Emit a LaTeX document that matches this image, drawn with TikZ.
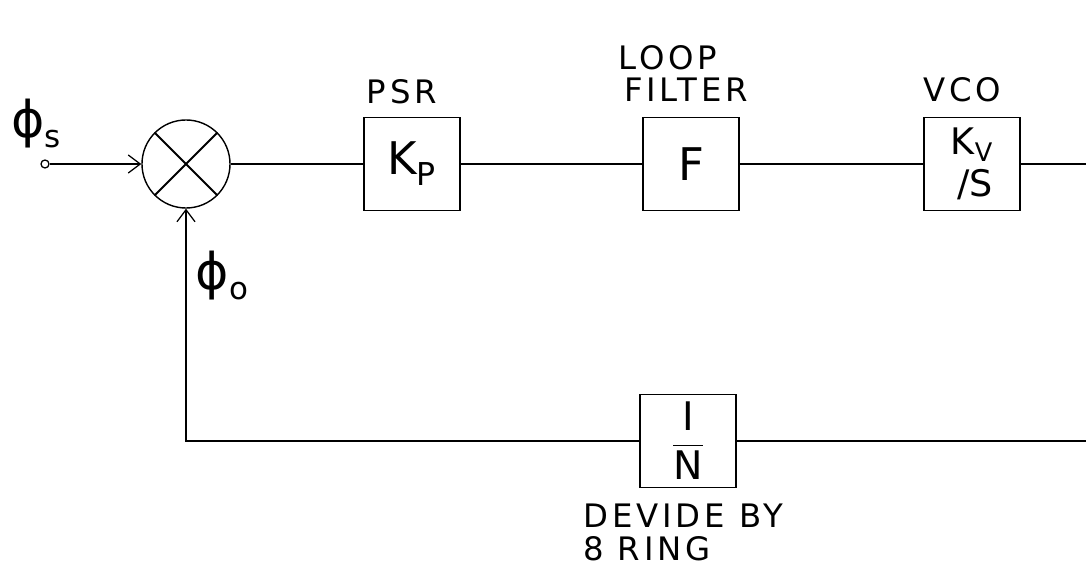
\documentclass[tikz,border=0pt]{standalone}
\usepackage{fontspec}
\setmainfont{DejaVu Sans}
\usetikzlibrary{arrows.meta,positioning}

\begin{document}
\begin{tikzpicture}[x=0.025cm, y=-0.025cm,
  every node/.style={font=\fontsize{18}{22}\selectfont},
  block/.style={rectangle, draw, line width=1pt, minimum width=2.4cm, minimum height=2.33cm, inner sep=2pt, font=\fontsize{32}{36}\selectfont, align=center},
  wire/.style={line width=0.9pt},
  arrow/.style={wire, -{Straight Barb[length=3mm, width=4.5mm]}},
  tag/.style={font=\addfontfeature{LetterSpace=12}\fontsize{23}{28}\selectfont, inner sep=0pt},
  sym/.style={font=\fontsize{36}{40}\selectfont, inner sep=0pt}
]
\useasboundingbox (0,0) rectangle (1086,576);

% forward path
\node[circle, draw, line width=1pt, minimum size=2.2cm] (sum) at (186,164) {};
\draw[line width=1.4pt] (sum.45) -- (sum.225) (sum.135) -- (sum.315);
\node[circle, draw, line width=0.9pt, minimum size=0.2cm, inner sep=0pt] (in) at (45,164) {};
\node[block] (psr)  at (412,164) {K$_\mathrm{P}$};
\node[block] (filt) at (691,164) {F};
\node[block] (vco)  at (972,164) {\fontsize{26}{22}\selectfont K$_\mathrm{V}$\\[-6pt]\fontsize{26}{22}\selectfont\,/S};
\coordinate (out) at (1086,164);

% feedback path
\node[block, font=\fontsize{28}{32}\selectfont] (div) at (688,441) {$\displaystyle\frac{\mathrm{I}}{\mathrm{N}}$};
\coordinate (back) at (1086,441);

% labels
\node[sym] (phis) at (36,124) {ϕ\raisebox{-0.35ex}{\fontsize{22}{24}\selectfont s}};
\node[sym] (phio) at (222,276) {ϕ\raisebox{-0.35ex}{\fontsize{22}{24}\selectfont o}};
\node[tag] (psrlbl) at (402,92) {PSR};
\node[tag] (looplbl) at (668,58) {LOOP};
\node[tag] (filtlbl) at (686,90) {FILTER};
\node[tag] (vcolbl) at (962,90) {VCO};
\node[tag, anchor=west] (divlbl) at (583,516) {DEVIDE BY};
\node[tag, anchor=west] (ringlbl) at (583,549) {8 RING};

\draw[arrow] (in.east) -- (sum.west);
\draw[wire] (sum.east) -- (psr.west);
\draw[wire] (psr.east) -- (filt.west);
\draw[wire] (filt.east) -- (vco.west);
\draw[wire] (vco.east) -- (out);
\draw[wire] (back) -- (div.east);
\draw[arrow] (div.west) -| (sum.south);
\end{tikzpicture}
\end{document}
